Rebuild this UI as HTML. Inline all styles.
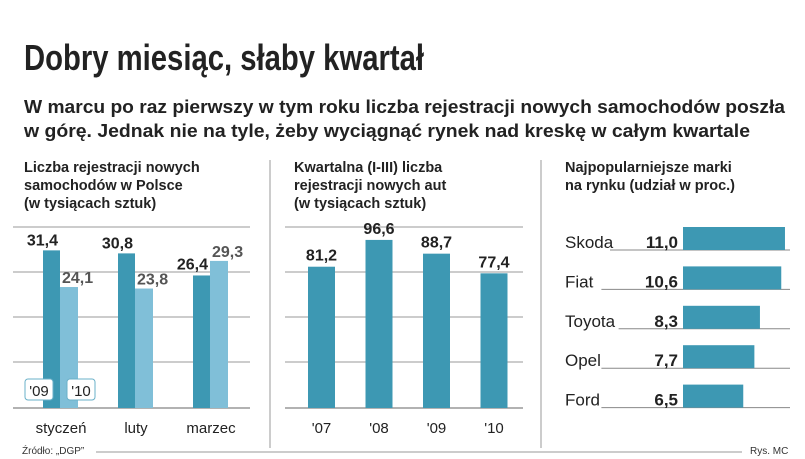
<!DOCTYPE html>
<html><head><meta charset="utf-8"><style>body{margin:0;background:#fff}svg{display:block;font-family:"Liberation Sans",sans-serif}</style></head>
<body>
<svg id="s" width="805" height="459" viewBox="0 0 805 459">
<text x="24" y="70" font-size="36" font-weight="bold" fill="#222" textLength="400" lengthAdjust="spacingAndGlyphs">Dobry miesiąc, słaby kwartał</text>
<text x="24" y="113" font-size="18" font-weight="bold" fill="#222" textLength="761" lengthAdjust="spacingAndGlyphs">W marcu po raz pierwszy w tym roku liczba rejestracji nowych samochodów poszła</text>
<text x="24" y="137" font-size="18" font-weight="bold" fill="#222" textLength="726" lengthAdjust="spacingAndGlyphs">w górę. Jednak nie na tyle, żeby wyciągnąć rynek nad kreskę w całym kwartale</text>
<g font-size="14.5" font-weight="bold" fill="#222">
<text x="24" y="172">Liczba rejestracji nowych</text>
<text x="24" y="190">samochodów w Polsce</text>
<text x="24" y="208">(w tysiącach sztuk)</text>
<text x="294" y="172">Kwartalna (I-III) liczba</text>
<text x="294" y="190">rejestracji nowych aut</text>
<text x="294" y="208">(w tysiącach sztuk)</text>
<text x="565" y="172">Najpopularniejsze marki</text>
<text x="565" y="190">na rynku (udział w proc.)</text>
</g>
<line x1="270" y1="160" x2="270" y2="448" stroke="#999"/>
<line x1="541" y1="160" x2="541" y2="448" stroke="#999"/>
<line x1="96" y1="452" x2="742" y2="452" stroke="#999"/>
<text x="22" y="454" font-size="10" fill="#333">Źródło: „DGP”</text>
<text x="750" y="454" font-size="10" fill="#333">Rys. MC</text>
<g id="g1"></g><g id="g2"></g><g id="g3"></g>
</svg>
<script>
const months=["styczeń","luty","marzec"];
const v09=[31.4,30.8,26.4];
const v10=[24.1,23.8,29.3];
const years=["'07","'08","'09","'10"];
const quarterly=[81.2,96.6,88.7,77.4];
const brands=["Skoda","Fiat","Toyota","Opel","Ford"];
const shares=[11.0,10.6,8.3,7.7,6.5];
const NS="http://www.w3.org/2000/svg";
const DARK="#3d98b3",LIGHT="#80bfd8";
function mk(p,t,a,txt){const e=document.createElementNS(NS,t);for(const k in a)e.setAttribute(k,a[k]);if(txt!==undefined)e.textContent=txt;p.appendChild(e);return e;}
const base=408;
const gridY=[227,272,317,362,408];
// panel 1
const g1=document.getElementById('g1');
gridY.forEach(y=>{const l=mk(g1,'line',{x1:13,x2:250,y1:y,y2:y,stroke:'#999','stroke-width':y==base?1.5:1});

});
const y1=v=>base-v*5.02;
const fmt=v=>v.toFixed(1).replace('.',',');
months.forEach((m,i)=>{const cx=60+i*75;
const a=mk(g1,'rect',{x:cx-17,y:y1(v09[i]),width:17,height:base-y1(v09[i]),fill:DARK});


const b=mk(g1,'rect',{x:cx,y:y1(v10[i]),width:18,height:base-y1(v10[i]),fill:LIGHT});


const hi=v10[i]>v09[i];
const t1=mk(g1,'text',{x:cx-2,y:y1(v09[i])-(hi?6:5),'font-size':16,'font-weight':'bold',fill:'#222','text-anchor':'end'},fmt(v09[i]));


const t2=mk(g1,'text',{x:cx+2,y:y1(v10[i])-4,'font-size':16,'font-weight':'bold',fill:'#555'},fmt(v10[i]));


const tx=mk(g1,'text',{x:cx+1,y:433,'font-size':15,fill:'#222','text-anchor':'middle'},m);

});
[["'09",25],["'10",67]].forEach(([t,x])=>{mk(g1,'rect',{x:x,y:379,width:28,height:21,rx:3,fill:'#fff',stroke:'#6ab0c8'});
const e=mk(g1,'text',{x:x+14,y:396,'font-size':15,fill:'#222','text-anchor':'middle'},t);

});
// panel 2
const g2=document.getElementById('g2');
gridY.forEach(y=>{const l=mk(g2,'line',{x1:285,x2:523,y1:y,y2:y,stroke:'#999','stroke-width':y==base?1.5:1});

});
const y2=v=>base-v*1.74;
years.forEach((yr,i)=>{const x=308+i*57.5;
const r=mk(g2,'rect',{x:x,y:y2(quarterly[i]),width:27,height:base-y2(quarterly[i]),fill:DARK});


const t=mk(g2,'text',{x:x+13.5,y:y2(quarterly[i])-6,'font-size':16,'font-weight':'bold',fill:'#222','text-anchor':'middle'},fmt(quarterly[i]));


const l=mk(g2,'text',{x:x+13.5,y:433,'font-size':15,fill:'#222','text-anchor':'middle'},yr);

});
// panel 3
const g3=document.getElementById('g3');
brands.forEach((b,i)=>{const top=227+i*39.4;const bot=top+23;
const l=mk(g3,'line',{x1:565+b.length*8.6+2,x2:790,y1:bot,y2:bot,stroke:'#888'});


const r=mk(g3,'rect',{x:683,y:top,width:shares[i]*9.27,height:23,fill:DARK});


const t=mk(g3,'text',{x:565,y:bot-2,'font-size':17,fill:'#222'},b);


const bg=mk(g3,'rect',{x:625,y:bot-18,width:52,height:17,fill:'#fff'});
const v=mk(g3,'text',{x:678,y:bot-2,'font-size':17,'font-weight':'bold',fill:'#222','text-anchor':'end'},fmt(shares[i]));


const w=v.getComputedTextLength?v.getComputedTextLength():40;bg.setAttribute('x',678-w-1);bg.setAttribute('width',w+2);});
</script>
</body></html>
